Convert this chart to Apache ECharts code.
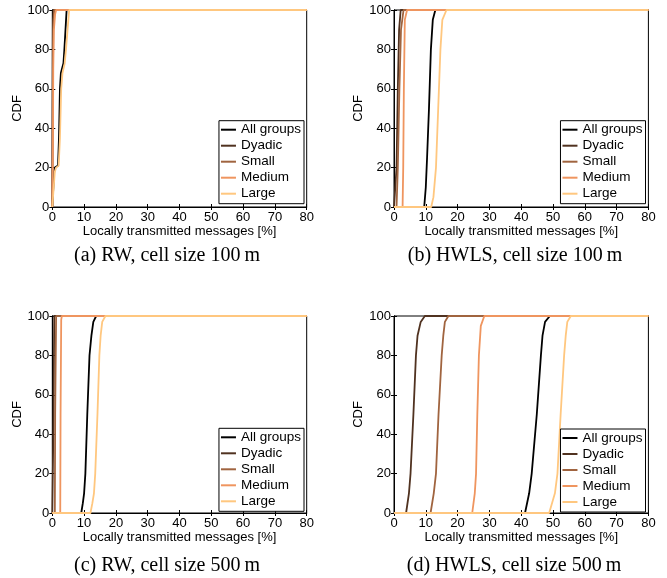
<!DOCTYPE html>
<html>
<head>
    <meta charset="utf-8">
    <script src="https://cdn.jsdelivr.net/npm/echarts@6/dist/echarts.min.js"></script>
    <style>
        html, body { margin: 0; padding: 0; background: #fff; }
    </style>
</head>
<body>
<div id="main" style="width: 667px; height: 578px;"></div>

<script type="text/javascript">
    var chart = echarts.init(document.getElementById('main'));

    var groupNames = ['All groups', 'Dyadic', 'Small', 'Medium', 'Large'];
    var captions = ['(a) RW, cell size 100\u2009m', '(b) HWLS, cell size 100\u2009m',
        '(c) RW, cell size 500\u2009m', '(d) HWLS, cell size 500\u2009m'];
    var xTicks = [0, 80, 10];   // min, max, step
    var yTicks = [0, 100, 20];

    // CDF curves, [locally transmitted %, CDF %]
    // (a) RW, 100 m
    var rw100All = [[0, 0], [0.4, 0], [0.6, 18], [0.8, 20], [1.8, 21], [2.1, 35], [2.4, 60], [2.7, 68], [3.5, 73], [3.8, 80], [4.5, 100], [80, 100]];
    var rw100Dyadic = [[0, 0], [0.05, 0], [0.1, 60], [0.2, 95], [0.4, 100], [80, 100]];
    var rw100Small = [[0, 0], [0.1, 0], [0.15, 50], [0.3, 90], [0.6, 100], [80, 100]];
    var rw100Medium = [[0, 0], [0.15, 0], [0.2, 30], [0.3, 70], [0.5, 90], [0.9, 98], [1.2, 100], [80, 100]];
    var rw100Large = [[0, 0], [0.6, 0], [0.8, 18], [1.2, 20], [2.0, 21], [2.4, 35], [2.8, 60], [3.2, 68], [3.9, 73], [4.3, 80], [5.3, 100], [80, 100]];

    // (b) HWLS, 100 m
    var hw100All = [[0, 0], [9.5, 0], [10.0, 10], [10.4, 25], [11.0, 50], [11.6, 80], [12.2, 95], [13.0, 100], [80, 100]];
    var hw100Dyadic = [[0, 0], [0.5, 0], [0.8, 20], [1.2, 60], [1.6, 90], [2.1, 100], [80, 100]];
    var hw100Small = [[0, 0], [0.8, 0], [1.2, 20], [1.7, 60], [2.2, 90], [3.0, 100], [80, 100]];
    var hw100Medium = [[0, 0], [2.7, 0], [2.9, 20], [3.1, 60], [3.4, 95], [4.1, 100], [80, 100]];
    var hw100Large = [[0, 0], [11.7, 0], [12.4, 5], [13.2, 20], [13.9, 50], [14.6, 80], [15.2, 95], [16.5, 100], [80, 100]];

    // (c) RW, 500 m
    var rw500All = [[0, 0], [9.1, 0], [9.6, 5], [10.0, 10], [10.4, 20], [11.0, 50], [11.7, 80], [12.3, 90], [12.9, 97], [13.8, 100], [80, 100]];
    var rw500Dyadic = [[0, 0], [0.3, 0], [0.4, 50], [0.6, 100], [80, 100]];
    var rw500Small = [[0, 0], [0.8, 0], [0.9, 50], [1.2, 100], [80, 100]];
    var rw500Medium = [[0, 0], [2.5, 0], [2.6, 50], [2.8, 98], [3.0, 100], [80, 100]];
    var rw500Large = [[0, 0], [12.0, 0], [12.6, 5], [13.1, 10], [13.5, 20], [14.2, 50], [14.8, 80], [15.2, 90], [15.7, 97], [16.7, 100], [80, 100]];

    // (d) HWLS, 500 m
    var hw500All = [[0, 0], [41.2, 0], [42.5, 10], [43.3, 20], [44.9, 50], [46.2, 80], [46.7, 90], [47.5, 97], [49.0, 100], [80, 100]];
    var hw500Dyadic = [[0, 0], [3.8, 0], [4.7, 10], [5.2, 20], [6.1, 50], [6.9, 80], [7.4, 90], [8.4, 97], [9.7, 100], [80, 100]];
    var hw500Small = [[0, 0], [11.5, 0], [12.5, 10], [13.2, 20], [14.0, 50], [15.0, 80], [15.5, 90], [16.0, 97], [17.1, 100], [80, 100]];
    var hw500Medium = [[0, 0], [24.6, 0], [25.4, 10], [25.8, 20], [26.2, 50], [26.7, 80], [27.3, 95], [28.4, 100], [80, 100]];
    var hw500Large = [[0, 0], [48.8, 0], [50.6, 10], [51.4, 20], [52.4, 50], [53.5, 80], [54.0, 90], [54.5, 97], [55.6, 100], [80, 100]];

    var panelData = [
        [rw100All, rw100Dyadic, rw100Small, rw100Medium, rw100Large],
        [hw100All, hw100Dyadic, hw100Small, hw100Medium, hw100Large],
        [rw500All, rw500Dyadic, rw500Small, rw500Medium, rw500Large],
        [hw500All, hw500Dyadic, hw500Small, hw500Medium, hw500Large]
    ];

    // matlab copper(5)
    var colors = ['#000000', '#503220', '#a0643f', '#ef955f', '#ffc77f'];

    // layout in px
    var gridLeft = [52.3, 394, 52.3, 394];
    var gridTop = [10, 10, 316, 316];
    var gridW = 254.4, gridH = 197;
    var legendRight = [363, 21.5, 363, 21.5];
    var legendTop = [120.7, 120.7, 428.3, 429];
    var captionX = [167, 515, 167, 514];
    var captionY = [256, 256, 566, 566];

    var sans = 'Liberation Sans';

    var grids = [], xAxes = [], yAxes = [], series = [], legends = [], graphics = [];

    for (var p = 0; p < 4; p++) {
        grids.push({
            left: gridLeft[p], top: gridTop[p], width: gridW, height: gridH,
            show: true, borderColor: '#000', borderWidth: 1, backgroundColor: 'transparent'
        });

        var xBase = {
            type: 'value', gridIndex: p, min: xTicks[0], max: xTicks[1], interval: xTicks[2],
            axisLine: {lineStyle: {color: '#000', width: 1}},
            axisTick: {inside: true, length: 3, lineStyle: {color: '#000'}},
            splitLine: {show: false}
        };
        var yBase = {
            type: 'value', gridIndex: p, min: yTicks[0], max: yTicks[1], interval: yTicks[2],
            axisLine: {lineStyle: {color: '#000', width: 1}},
            axisTick: {inside: true, length: 3, lineStyle: {color: '#000'}},
            splitLine: {show: false}
        };

        // bottom / left axes with labels
        xAxes.push(echarts.util.merge({
            position: 'bottom',
            name: 'Locally transmitted messages [%]',
            nameLocation: 'middle', nameGap: 17,
            nameTextStyle: {fontFamily: sans, fontSize: 13, color: '#000'},
            axisLabel: {fontFamily: sans, fontSize: 13, color: '#000', margin: 4}
        }, xBase, true));
        yAxes.push(echarts.util.merge({
            position: 'left',
            name: 'CDF',
            nameLocation: 'middle', nameGap: 28,
            nameTextStyle: {fontFamily: sans, fontSize: 13, color: '#000'},
            axisLabel: {fontFamily: sans, fontSize: 13, color: '#000', margin: 3}
        }, yBase, true));

        // top / right axes, ticks only
        xAxes.push(echarts.util.merge({position: 'top', axisLabel: {show: false}}, xBase, true));
        yAxes.push(echarts.util.merge({position: 'right', axisLabel: {show: false}}, yBase, true));

        for (var g = 0; g < groupNames.length; g++) {
            series.push({
                type: 'line',
                name: groupNames[g],
                xAxisIndex: p * 2,
                yAxisIndex: p * 2,
                data: panelData[p][g],
                symbol: 'none',
                clip: false,
                animation: false,
                lineStyle: {color: colors[g], width: 1.8},
                itemStyle: {color: colors[g]}
            });
        }

        legends.push({
            data: groupNames,
            orient: 'vertical',
            right: legendRight[p],
            top: legendTop[p],
            icon: 'rect',
            itemWidth: 15,
            itemHeight: 2,
            itemGap: 2,
            padding: [2, 3, 3, 2],
            backgroundColor: '#fff',
            borderColor: '#000',
            borderWidth: 1,
            borderRadius: 0,
            selectedMode: false,
            textStyle: {fontFamily: sans, fontSize: 13.5, color: '#000', lineHeight: 14}
        });

        graphics.push({
            type: 'text',
            x: captionX[p],
            y: captionY[p],
            style: {
                text: captions[p],
                fontFamily: 'Liberation Serif',
                fontSize: 20,
                fill: '#000',
                align: 'center',
                verticalAlign: 'middle'
            }
        });
    }

    var option = {
        animation: false,
        backgroundColor: '#fff',
        grid: grids,
        xAxis: xAxes,
        yAxis: yAxes,
        legend: legends,
        series: series,
        graphic: graphics
    };

    chart.setOption(option);
</script>
</body>
</html>
